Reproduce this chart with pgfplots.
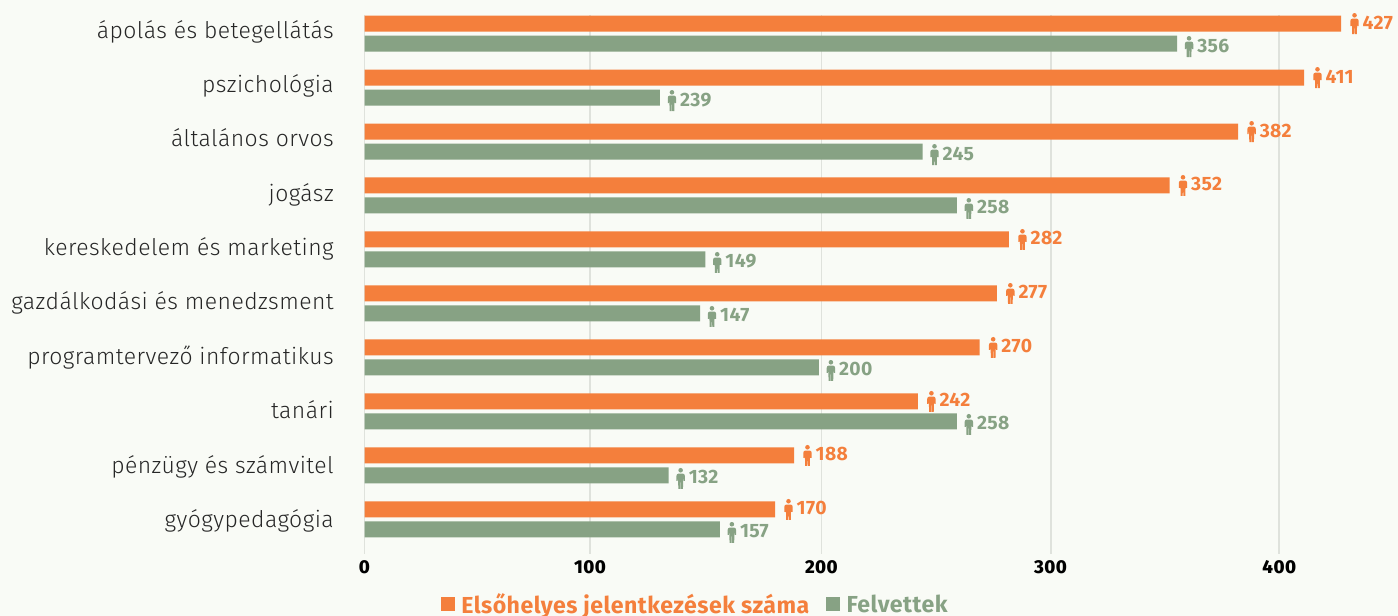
\documentclass[border=0pt]{standalone}
\usepackage{pgfplots}
\usepackage{pgfplotstable}
\usepackage{fontspec}
\pgfplotsset{compat=1.18}
\setmainfont{Fira Sans}[LetterSpace=2]
\newfontfamily\catfont{Fira Sans Light}[LetterSpace=2]
\newfontfamily\tickfont{Fira Sans ExtraBold}[LetterSpace=2]
\definecolor{bgc}{HTML}{F9FBF6}
\definecolor{orangec}{HTML}{F47F3C}
\definecolor{greenc}{HTML}{87A284}
\definecolor{gridc}{HTML}{DFE2DC}

% 1 px of the reference = 0.75pt
\newlength{\px}\setlength{\px}{0.75pt}

\newcommand{\persondraw}[1]{%
  \begin{tikzpicture}[x=\px,y=-\px,baseline={-12pt}]
    \fill[#1] (0,2.3) circle (2.3);
    \fill[#1] (-2.2,5.6) -- (2.2,5.6) to[out=0,in=90] (4.2,8) -- (4.2,13) -- (3,13) -- (2.7,9.5)
      -- (2.5,13.5) -- (2.3,21) -- (0.3,21) -- (0.2,14.5) -- (-0.2,14.5) -- (-0.3,21) -- (-2.3,21) -- (-2.5,13.5)
      -- (-2.7,9.5) -- (-3,13) -- (-4.2,13) -- (-4.2,8) to[out=90,in=180] cycle;
  \end{tikzpicture}}
\newsavebox{\personO}\newsavebox{\personG}
\savebox{\personO}{\persondraw{orangec}}
\savebox{\personG}{\persondraw{greenc}}

% value = bar length as drawn, label = number printed next to the bar
\pgfplotstableread{
x y label
427 0 427
410.8 1 411
382 2 382
352 3 352
281.8 4 282
276.5 5 277
269 6 270
242 7 242
187.8 8 188
179.5 9 170
}\jelentkezes
\pgfplotstableread{
x y label
355.3 0 356
129.2 1 239
244 2 245
259 3 258
149 4 149
146.7 5 147
198.7 6 200
259 7 258
133 8 132
155.4 9 157
}\felvettek

\begin{document}
\begin{tikzpicture}
\useasboundingbox (0,0) rectangle (1398\px,616\px);
\fill[bgc] (0,0) rectangle (1398\px,616\px);
\begin{axis}[
  at={(364.5\px,62\px)}, anchor=south west,
  scale only axis,
  width=1033.5\px, height=539\px,
  xmin=0, xmax=451.9,
  ymin=-0.343, ymax=9.64,
  y dir=reverse,
  axis line style={draw=none},
  xbar,
  bar width=16\px,
  xtick={0,98.6,199.8,300,400},
  xticklabels={0,100,200,300,400},
  ytick={-0.046,0.961,1.969,2.976,3.984,4.991,5.998,7.006,8.013,9.021},
  yticklabels={ápolás és betegellátás,pszichológia,általános orvos,jogász,kereskedelem és marketing,gazdálkodási és menedzsment,programtervező informatikus,tanári,pénzügy és számvitel,gyógypedagógia},
  major tick length=0pt,
  tick style={draw=none},
  xmajorgrids, ymajorgrids=false,
  grid style={gridc,line width=1.8\px},
  clip=false,
  xticklabel style={font=\tickfont\fontsize{14}{15}\selectfont,text=black,inner sep=0pt,yshift=-13\px,anchor=center},
  yticklabel style={font=\catfont\fontsize{17.2}{18}\selectfont,text=black!85,inner sep=0pt,anchor=base east,xshift=-30.5\px,yshift=-7\px},
  legend columns=2,
  legend style={at={(0.0735,-0.119)},anchor=south west,draw=none,fill=none,
    font=\fontsize{17.35}{18}\selectfont\bfseries,inner sep=0pt,
    /tikz/every even column/.append style={column sep=14\px}},
  legend cell align=left,
  nodes near coords,
  point meta=explicit symbolic,
  every node near coord/.append style={anchor=west,inner sep=0pt,font=\fontsize{14.5}{15}\selectfont\bfseries},
]
\addplot[fill=orangec,draw=none,bar shift=10\px,text=orangec,
  nodes near coords={\hspace*{9\px}\usebox{\personO}\hspace*{4\px}\pgfplotspointmeta},
  legend image code/.code={\fill[orangec] (0pt,-5.25pt) rectangle (10.5pt,5.25pt);}]
  table[x=x,y=y,meta=label]{\jelentkezes};
\addlegendentry{\hspace*{4\px}\textcolor{orangec}{Elsőhelyes jelentkezések száma}}
\addplot[fill=greenc,draw=none,bar shift=-10\px,text=greenc,
  nodes near coords={\hspace*{7.5\px}\usebox{\personG}\hspace*{4\px}\pgfplotspointmeta},
  every node near coord/.append style={yshift=-3\px},
  legend image code/.code={\fill[greenc] (0pt,-5.25pt) rectangle (10.5pt,5.25pt);}]
  table[x=x,y=y,meta=label]{\felvettek};
\addlegendentry{\hspace*{4\px}\textcolor{greenc}{Felvettek}}
\end{axis}
\end{tikzpicture}
\end{document}
